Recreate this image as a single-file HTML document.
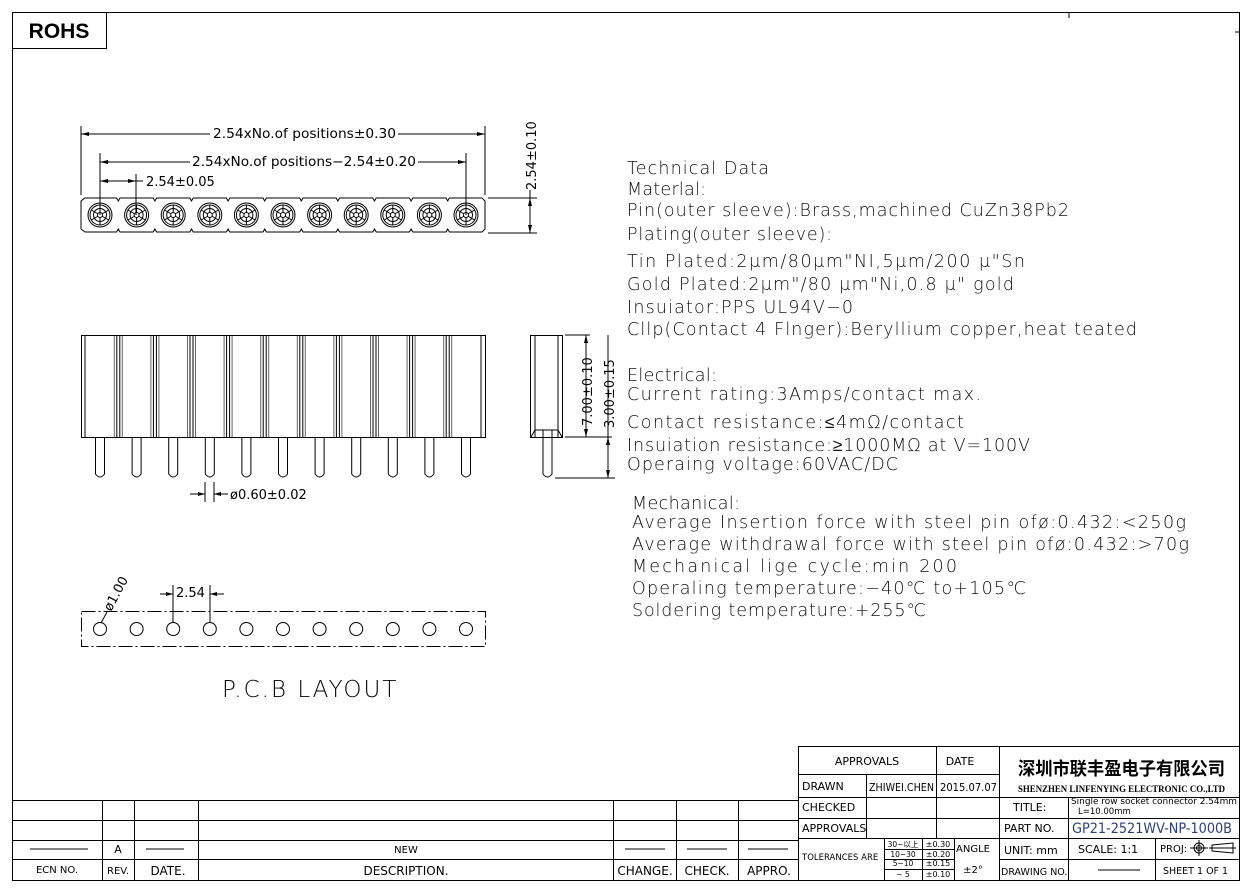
<!DOCTYPE html>
<html><head><meta charset="utf-8"><style>
html,body{margin:0;padding:0;background:#fff;width:1252px;height:891px;overflow:hidden}
svg{display:block}
text{font-family:"DejaVu Sans","Liberation Sans",sans-serif;fill:#000}
.l{stroke:#000;stroke-width:1;fill:none}
.g{stroke:#666;stroke-width:1;fill:none}
.t{font-family:"Liberation Sans",sans-serif;font-size:11px}
.tech{font-size:17.5px;fill:#111;font-weight:300}
</style></head><body>
<svg id="s" width="1252" height="891" viewBox="0 0 1252 891" xmlns="http://www.w3.org/2000/svg">
<rect x="12.5" y="12.5" width="1227" height="868" class="l" stroke-width="1.2"/>
<line x1="1069" y1="12" x2="1069" y2="18" class="l"/>
<line x1="1235" y1="32" x2="1240" y2="32" class="l"/>
<rect x="12.5" y="12.5" width="94" height="36" class="l" stroke-width="1.5"/>
<text x="59" y="38" text-anchor="middle" style="font-family:'Liberation Sans',sans-serif;font-weight:bold;font-size:21px">ROHS</text>

<g class="l" stroke-width="0.8">
<line x1="81" y1="126" x2="81" y2="195"/><line x1="485" y1="126" x2="485" y2="195"/>
<line x1="81" y1="134" x2="210" y2="134"/><line x1="398" y1="134" x2="485" y2="134"/>
<line x1="100" y1="153" x2="100" y2="215"/><line x1="466" y1="153" x2="466" y2="215"/>
<line x1="100" y1="162" x2="190" y2="162"/><line x1="418" y1="162" x2="466" y2="162"/>
<line x1="136" y1="174" x2="136" y2="215"/>
<line x1="100" y1="181" x2="143" y2="181"/>
<line x1="488" y1="198" x2="537" y2="198"/><line x1="488" y1="233" x2="537" y2="233"/>
<line x1="530" y1="190" x2="530" y2="233"/>
</g>
<g fill="#000">
<polygon points="81,134 89,132 89,136"/><polygon points="485,134 477,132 477,136"/>
<polygon points="100,162 108,160 108,164"/><polygon points="466,162 458,160 458,164"/>
<polygon points="100,181 108,179 108,183"/><polygon points="136,181 128,179 128,183"/>
<polygon points="530,198 528,206 532,206"/><polygon points="530,233 528,225 532,225"/>
</g>
<text x="213" y="138" textLength="183" lengthAdjust="spacingAndGlyphs" style="font-size:13px">2.54xNo.of  positions±0.30</text>
<text x="192" y="166" textLength="224" lengthAdjust="spacingAndGlyphs" style="font-size:13px">2.54xNo.of  positions−2.54±0.20</text>
<text x="146" y="186" style="font-size:13px">2.54±0.05</text>
<text transform="translate(536,190) rotate(-90)" style="font-size:13px">2.54±0.10</text>
<g id="topv"></g>

<rect x="81.5" y="335.5" width="404" height="102" class="l"/>
<g id="sidev"></g>
<rect x="530.5" y="335.5" width="32" height="102" class="l"/>
<line x1="535" y1="336" x2="535" y2="437" class="l"/><line x1="558" y1="336" x2="558" y2="437" class="l"/>
<path d="M531 437 L535 430 L558 430 L562 437" class="l"/>
<path d="M543 430 L543 474 Q547.5 480 552 474 L552 430" class="l"/>
<g class="l" stroke-width="0.8">
<line x1="565" y1="335" x2="590" y2="335"/><line x1="555" y1="478" x2="615" y2="478"/>
<line x1="586" y1="335" x2="586" y2="437"/><line x1="608" y1="335" x2="608" y2="478"/>
<line x1="565" y1="437" x2="612" y2="437"/>
</g>
<g fill="#000">
<polygon points="586,335 584,343 588,343"/><polygon points="586,437 584,429 588,429"/>
<polygon points="608,437 606,445 610,445"/><polygon points="608,478 606,470 610,470"/>
</g>
<text transform="translate(592,426) rotate(-90)" style="font-size:13px">7.00±0.10</text>
<text transform="translate(614,428) rotate(-90)" style="font-size:13px">3.00±0.15</text>
<g class="l" stroke-width="0.8"><line x1="205" y1="482" x2="205" y2="502"/><line x1="214" y1="482" x2="214" y2="502"/>
<line x1="190" y1="494" x2="205" y2="494"/><line x1="214" y1="494" x2="228" y2="494"/></g>
<polygon points="205,494 198,492 198,496" fill="#000"/><polygon points="214,494 221,492 221,496" fill="#000"/>
<text x="230" y="499" style="font-size:13px">ø0.60±0.02</text>

<rect x="81.5" y="611.5" width="404" height="35" class="l" stroke-dasharray="14,3,2,3"/>
<g id="pcbv"></g>
<g class="l" stroke-width="0.8"><line x1="173" y1="585" x2="173" y2="623"/><line x1="210" y1="585" x2="210" y2="623"/>
<line x1="160" y1="594" x2="173" y2="594"/><line x1="210" y1="594" x2="224" y2="594"/><line x1="101" y1="623" x2="107" y2="612"/></g>
<polygon points="173,594 166,592 166,596" fill="#000"/><polygon points="210,594 217,592 217,596" fill="#000"/>
<text x="176" y="597" style="font-size:13px">2.54</text>
<text transform="translate(111,612) rotate(-62)" style="font-size:13px">ø1.00</text>
<text x="222" y="697" style="font-size:23px;letter-spacing:2px;font-weight:300">P.C.B LAYOUT</text>

<g class="tech">
<text x="627" y="174" class="tech" textLength="142">Technical Data</text>
<text x="627" y="195" class="tech" textLength="79">Materlal:</text>
<text x="627" y="216" class="tech" textLength="442">Pin(outer sleeve):Brass,machined CuZn38Pb2</text>
<text x="627" y="240" class="tech" textLength="205">Plating(outer sleeve):</text>
<text x="627" y="267" class="tech" textLength="398">Tin Plated:2μm/80μm"NI,5μm/200 μ"Sn</text>
<text x="627" y="290" class="tech" textLength="387">Gold Plated:2μm"/80 μm"Ni,0.8 μ" gold</text>
<text x="627" y="313" class="tech" textLength="226">Insuiator:PPS UL94V−0</text>
<text x="627" y="335" class="tech" textLength="510">Cllp(Contact 4 Flnger):Beryllium copper,heat teated</text>
<text x="627" y="381" class="tech" textLength="90">Electrical:</text>
<text x="627" y="400" class="tech" textLength="354">Current rating:3Amps/contact max.</text>
<text x="627" y="428" class="tech" textLength="337">Contact resistance:≤4mΩ/contact</text>
<text x="627" y="451" class="tech" textLength="403">Insuiation resistance:≥1000MΩ at V=100V</text>
<text x="627" y="470" class="tech" textLength="271">Operaing voltage:60VAC/DC</text>
<text x="632" y="509" class="tech" textLength="108">Mechanical:</text>
<text x="632" y="528" class="tech" textLength="554">Average Insertion force with steel pin ofø:0.432:&lt;250g</text>
<text x="632" y="550" class="tech" textLength="557">Average withdrawal force with steel pin ofø:0.432:&gt;70g</text>
<text x="632" y="572" class="tech" textLength="325">Mechanical lige cycle:min 200</text>
<text x="632" y="594" class="tech" textLength="394">Operaling temperature:−40℃  to+105℃</text>
<text x="632" y="616" class="tech" textLength="294">Soldering temperature:+255℃</text>
</g>

<g class="l">
<line x1="12" y1="800.5" x2="798" y2="800.5"/><line x1="12" y1="820.5" x2="798" y2="820.5"/>
<line x1="12" y1="840.5" x2="798" y2="840.5"/><line x1="12" y1="859.5" x2="798" y2="859.5"/>
<line x1="102.5" y1="800" x2="102.5" y2="880"/><line x1="134.5" y1="800" x2="134.5" y2="880"/>
<line x1="198.5" y1="800" x2="198.5" y2="880"/><line x1="613.5" y1="800" x2="613.5" y2="880"/>
<line x1="676.5" y1="800" x2="676.5" y2="880"/><line x1="738.5" y1="800" x2="738.5" y2="880"/>
<line x1="30" y1="849" x2="88" y2="849"/><line x1="146" y1="849" x2="184" y2="849"/>
<line x1="625" y1="849" x2="665" y2="849"/><line x1="687" y1="849" x2="727" y2="849"/><line x1="748" y1="849" x2="788" y2="849"/>
</g>
<g class="t">
<text x="57" y="873" text-anchor="middle" style="font-size:10px">ECN NO.</text>
<text x="118" y="853" text-anchor="middle">A</text>
<text x="118" y="874" text-anchor="middle" style="font-size:10px">REV.</text>
<text x="168" y="875" text-anchor="middle" style="font-size:12px">DATE.</text>
<text x="406" y="853" text-anchor="middle" style="font-size:10px">NEW</text>
<text x="406" y="875" text-anchor="middle" style="font-size:12px">DESCRIPTION.</text>
<text x="645" y="875" text-anchor="middle" style="font-size:12px">CHANGE.</text>
<text x="707" y="875" text-anchor="middle" style="font-size:12px">CHECK.</text>
<text x="769" y="875" text-anchor="middle" style="font-size:12px">APPRO.</text>
</g>

<g class="l">
<rect x="798.5" y="746.5" width="441" height="134"/>
<line x1="798" y1="774.5" x2="999" y2="774.5"/><line x1="798" y1="797.5" x2="1240" y2="797.5"/>
<line x1="798" y1="818.5" x2="1240" y2="818.5"/><line x1="798" y1="838.5" x2="1240" y2="838.5"/>
<line x1="999" y1="859.5" x2="1240" y2="859.5"/>
<line x1="936.5" y1="746" x2="936.5" y2="838"/><line x1="866.5" y1="774" x2="866.5" y2="838"/>
<line x1="999.5" y1="746" x2="999.5" y2="880"/>
<line x1="1068.5" y1="797" x2="1068.5" y2="880"/><line x1="1155.5" y1="838" x2="1155.5" y2="880"/>
<line x1="884.5" y1="838" x2="884.5" y2="880"/><line x1="922.5" y1="838" x2="922.5" y2="880"/>
<line x1="954.5" y1="838" x2="954.5" y2="880"/>
<line x1="884" y1="849.5" x2="954" y2="849.5"/><line x1="884" y1="859.5" x2="954" y2="859.5"/><line x1="884" y1="869.5" x2="954" y2="869.5"/>
<line x1="1098" y1="870" x2="1140" y2="870"/>
</g>
<g class="t">
<text x="867" y="765" text-anchor="middle">APPROVALS</text>
<text x="960" y="765" text-anchor="middle">DATE</text>
<text x="802" y="790">DRAWN</text>
<text x="869" y="791" textLength="65" lengthAdjust="spacingAndGlyphs" style="font-size:10.5px">ZHIWEI.CHEN</text>
<text x="940" y="791" textLength="57" lengthAdjust="spacingAndGlyphs" style="font-size:10.5px">2015.07.07</text>
<text x="802" y="811">CHECKED</text>
<text x="802" y="832">APPROVALS</text>
<text x="802" y="860" style="font-size:8.5px">TOLERANCES ARE</text>
<text x="903" y="847" text-anchor="middle" style="font-size:7.5px">30~以上</text>
<text x="903" y="857" text-anchor="middle" style="font-size:7.5px">10~30</text>
<text x="903" y="866" text-anchor="middle" style="font-size:7.5px">5~10</text>
<text x="903" y="877" text-anchor="middle" style="font-size:7.5px">~ 5</text>
<text x="938" y="847" text-anchor="middle" style="font-size:8px">±0.30</text>
<text x="938" y="857" text-anchor="middle" style="font-size:8px">±0.20</text>
<text x="938" y="866" text-anchor="middle" style="font-size:8px">±0.15</text>
<text x="938" y="877" text-anchor="middle" style="font-size:8px">±0.10</text>
<text x="973" y="852" text-anchor="middle" style="font-size:10px">ANGLE</text>
<text x="973" y="873" text-anchor="middle" style="font-size:10px">±2°</text>
<text x="1018" y="775" textLength="207" lengthAdjust="spacingAndGlyphs" style="font-family:'Noto Sans CJK SC',sans-serif;font-weight:bold;font-size:18px">深圳市联丰盈电子有限公司</text>
<text x="1018" y="792" textLength="207" lengthAdjust="spacingAndGlyphs" style="font-family:'Liberation Serif',serif;font-weight:bold;font-size:9px">SHENZHEN LINFENYING ELECTRONIC CO.,LTD</text>
<text x="1013" y="811">TITLE:</text>
<text x="1071" y="804" textLength="166" lengthAdjust="spacingAndGlyphs" style="font-size:8.5px">Single row socket connector 2.54mm</text>
<text x="1078" y="814" style="font-size:8.5px">L=10.00mm</text>
<text x="1004" y="832">PART NO.</text>
<text x="1072" y="833" textLength="160" lengthAdjust="spacingAndGlyphs" style="font-size:14px;fill:#2a3f7a">GP21-2521WV-NP-1000B</text>
<text x="1004" y="854">UNIT: mm</text>
<text x="1078" y="853">SCALE:   1:1</text>
<text x="1160" y="852" style="font-size:10px">PROJ:</text>
<text x="1001" y="875" style="font-size:9.5px">DRAWING NO.</text>
<text x="1163" y="874" style="font-size:9.5px">SHEET  1 OF 1</text>
</g>
<g class="l" stroke-width="0.8">
<circle cx="1199" cy="848" r="5"/><circle cx="1199" cy="848" r="2.5"/>
<line x1="1190" y1="848" x2="1208" y2="848"/><line x1="1199" y1="840" x2="1199" y2="856"/>
<path d="M1212 845 L1233 843 L1233 853 L1212 851 Z"/><line x1="1209" y1="848" x2="1236" y2="848"/>
</g>
</svg>
<script>
(function(){
var NS="http://www.w3.org/2000/svg";
function el(p,t,a){var e=document.createElementNS(NS,t);for(var k in a)e.setAttribute(k,a[k]);p.appendChild(e);return e;}
var tv=document.getElementById('topv'),sv=document.getElementById('sidev'),pv=document.getElementById('pcbv');
var step=36.6;
var d="M85 198";
for(var i=0;i<11;i++){var cx=100+step*i;if(i>0)d+=" L"+(cx-20)+" 198 L"+(cx-18.3)+" 201 L"+(cx-16.6)+" 198";}
d+=" L482 198 L485 201 L485 229 L482 232";
for(var i=10;i>=0;i--){var cx=100+step*i;if(i<10)d+=" L"+(cx+20)+" 232 L"+(cx+18.3)+" 229 L"+(cx+16.6)+" 232";}
d+=" L85 232 L81 229 L81 201 Z";
el(tv,'path',{d:d,'class':'l'});
for(var i=0;i<11;i++){var cx=100+step*i,cy=215;
el(tv,'circle',{cx:cx,cy:cy,r:12,'class':'l'});
el(tv,'circle',{cx:cx,cy:cy,r:10,'class':'l'});
el(tv,'circle',{cx:cx,cy:cy,r:6.5,'class':'l','stroke-width':0.7});
el(tv,'circle',{cx:cx,cy:cy,r:2.5,'class':'l','stroke-width':0.7});
for(var k=0;k<6;k++){var a=k*Math.PI/3+Math.PI/6;el(tv,'line',{x1:cx+2.5*Math.cos(a),y1:cy+2.5*Math.sin(a),x2:cx+10*Math.cos(a),y2:cy+10*Math.sin(a),'class':'l','stroke-width':0.7});}
el(sv,'path',{d:"M"+(cx-4.5)+" 438 L"+(cx-4.5)+" 474 Q"+cx+" 480 "+(cx+4.5)+" 474 L"+(cx+4.5)+" 438",'class':'l'});
if(i<10){var x=cx+18.3;el(sv,'line',{x1:x-1.5,y1:336,x2:x-1.5,y2:437,'class':'l'});el(sv,'line',{x1:x+1.5,y1:336,x2:x+1.5,y2:437,'class':'l'});
el(sv,'line',{x1:x-4,y1:336,x2:x-4,y2:437,'class':'g'});el(sv,'line',{x1:x+4,y1:336,x2:x+4,y2:437,'class':'g'});}
el(pv,'circle',{cx:cx,cy:629,r:6.5,'class':'l','stroke-width':0.9});
}
el(sv,'line',{x1:85,y1:336,x2:85,y2:437,'class':'l'});el(sv,'line',{x1:481,y1:336,x2:481,y2:437,'class':'l'});
})();
</script>
</body></html>
